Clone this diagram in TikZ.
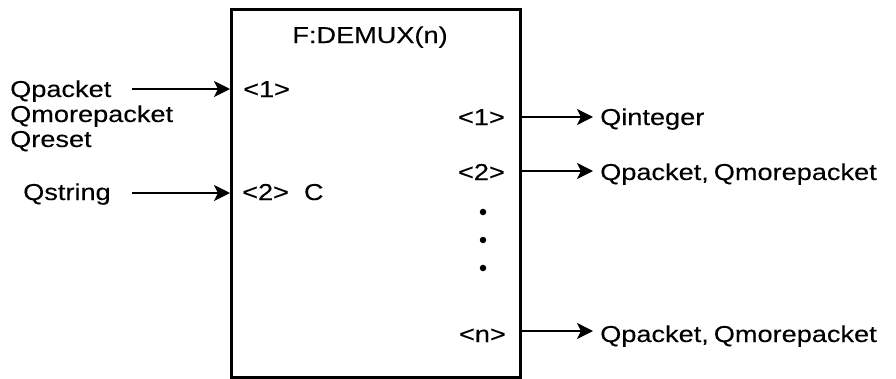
\documentclass[tikz,border=0pt]{standalone}
\usepackage{fontspec}
\setmainfont{Liberation Sans}[FakeStretch=1.18,FakeBold=0.2]
\usetikzlibrary{arrows.meta}
\begin{document}
\begin{tikzpicture}[x=1pt,y=-1pt,
  lbl/.style={font=\fontsize{23}{25}\selectfont, inner sep=0pt, anchor=base west},
  lblr/.style={lbl, anchor=base east},
  sig/.style={-{Stealth[length=16pt,width=16pt,inset=4pt]}, line width=1.6pt},
  dotm/.style={circle, fill, inner sep=0pt, minimum size=6.5pt}]
\useasboundingbox (0,0) rectangle (896,378);
% main box
\node[draw, line width=3.2pt, minimum width=289pt, minimum height=368pt,
      anchor=north west, inner sep=0pt] (box) at (230,8) {};
\node[lbl, anchor=base] (title) at (370,43) {F:DEMUX(n)};
% inputs
\node[lbl] (qp) at (10,97) {Qpacket};
\node[lbl] (qm) at (10,122) {Qmorepacket};
\node[lbl] (qr) at (10,147) {Qreset};
\node[lbl] (qs) at (23,200) {Qstring};
\node[lbl] (in1) at (243,97) {<1>};
\node[lbl] (in2) at (242,200) {<2>\hspace{15pt}C};
\coordinate (s1) at (132,89);
\coordinate (s2) at (132,193);
\draw[sig] (s1) -- (box.west |- s1);
\draw[sig] (s2) -- (box.west |- s2);
% outputs
\node[lblr] (o1) at (505,125) {<1>};
\node[lblr] (o2) at (505,180) {<2>};
\node[lblr] (on) at (506,342) {<n>};
\node[dotm] (d1) at (483,212) {};
\node[dotm] (d2) at (483,240) {};
\node[dotm] (d3) at (483,268) {};
\coordinate (t1) at (593,117);
\coordinate (t2) at (593,171);
\coordinate (tn) at (593,331);
\draw[sig] (box.east |- t1) -- (t1);
\draw[sig] (box.east |- t2) -- (t2);
\draw[sig] (box.east |- tn) -- (tn);
\node[lbl] (r1) at (600,125) {Qinteger};
\node[lbl] (r2) at (600,180) {Qpacket,\hspace{5pt}Qmorepacket};
\node[lbl] (rn) at (600,342) {Qpacket,\hspace{5pt}Qmorepacket};
\end{tikzpicture}
\end{document}
